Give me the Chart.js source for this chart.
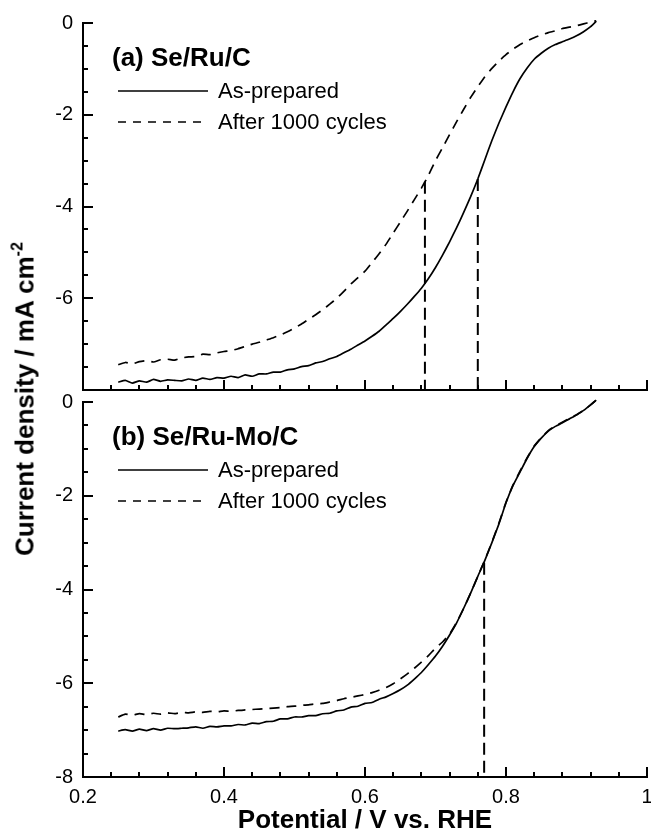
<!DOCTYPE html>
<html>
<head>
<meta charset="utf-8">
<script src="https://cdn.jsdelivr.net/npm/chart.js@4.4.1/dist/chart.umd.min.js"></script>
<style>
html, body { margin: 0; padding: 0; background: #fff; }
#wrap { position: relative; width: 651px; height: 834px; overflow: hidden; background: #fff; }
canvas { position: absolute; left: 0; }
#cTop { top: 0; }
#cBot { top: 380px; }
#ytitle {
  position: absolute; left: 25px; top: 399px;
  transform: translate(-50%, -50%) rotate(-90deg);
  white-space: nowrap; line-height: 1;
  font: bold 26px "Liberation Sans", Arial, Helvetica, sans-serif; color: #000;
}
#ytitle sup { font-size: 16px; vertical-align: 11px; line-height: 1; }
</style>
</head>
<body>
<div id="wrap">
  <canvas id="cTop" width="651" height="412"></canvas>
  <canvas id="cBot" width="651" height="454"></canvas>
  <div id="ytitle">Current density / mA cm<sup>-2</sup></div>
</div>
<script>
// ---------------- DATA ----------------
const potential = [
  0.25, 0.26, 0.27, 0.28, 0.29, 0.30, 0.31, 0.32, 0.33, 0.34,
  0.35, 0.36, 0.37, 0.38, 0.39, 0.40, 0.41, 0.42, 0.43, 0.44,
  0.45, 0.46, 0.47, 0.48, 0.49, 0.50, 0.51, 0.52, 0.53, 0.54,
  0.55, 0.56, 0.57, 0.58, 0.59, 0.60, 0.61, 0.62, 0.63, 0.64,
  0.65, 0.66, 0.67, 0.68, 0.69, 0.70, 0.71, 0.72, 0.73, 0.74,
  0.75, 0.76, 0.77, 0.78, 0.79, 0.80, 0.81, 0.82, 0.83, 0.84,
  0.85, 0.86, 0.87, 0.88, 0.89, 0.90, 0.91, 0.92, 0.928
];
// (a) Se/Ru/C
const currentA_asPrepared = [
  -7.83, -7.79, -7.85, -7.80, -7.83, -7.77, -7.81, -7.78, -7.79, -7.80,
  -7.76, -7.79, -7.74, -7.77, -7.73, -7.74, -7.70, -7.73, -7.67, -7.70,
  -7.65, -7.65, -7.61, -7.61, -7.56, -7.54, -7.49, -7.47, -7.41, -7.38,
  -7.32, -7.27, -7.19, -7.11, -7.02, -6.93, -6.83, -6.72, -6.58, -6.44,
  -6.29, -6.13, -5.96, -5.78, -5.57, -5.33, -5.06, -4.77, -4.46, -4.13,
  -3.78, -3.40, -2.98, -2.56, -2.18, -1.83, -1.50, -1.21, -0.98, -0.79,
  -0.66, -0.55, -0.47, -0.41, -0.35, -0.28, -0.19, -0.08, 0.04
];
const currentA_after1000 = [
  -7.45, -7.40, -7.43, -7.38, -7.36, -7.39, -7.34, -7.33, -7.35, -7.30,
  -7.28, -7.27, -7.22, -7.23, -7.19, -7.16, -7.14, -7.10, -7.05, -7.00,
  -6.96, -6.91, -6.86, -6.80, -6.73, -6.65, -6.56, -6.46, -6.36, -6.25,
  -6.13, -6.00, -5.85, -5.69, -5.55, -5.41, -5.22, -5.03, -4.82, -4.58,
  -4.34, -4.10, -3.85, -3.60, -3.32, -3.00, -2.72, -2.43, -2.15, -1.88,
  -1.62, -1.39, -1.17, -0.99, -0.83, -0.69, -0.57, -0.47, -0.39, -0.32,
  -0.26, -0.21, -0.17, -0.12, -0.09, -0.06, -0.02, 0.02, 0.05
];
// (b) Se/Ru-Mo/C
const currentB_asPrepared = [
  -7.02, -6.99, -7.02, -6.98, -7.01, -6.97, -7.00, -6.96, -6.97, -6.96,
  -6.95, -6.93, -6.96, -6.92, -6.93, -6.91, -6.91, -6.88, -6.89, -6.85,
  -6.86, -6.82, -6.81, -6.76, -6.76, -6.72, -6.72, -6.69, -6.69, -6.65,
  -6.64, -6.59, -6.57, -6.51, -6.49, -6.43, -6.41, -6.34, -6.29, -6.22,
  -6.14, -6.04, -5.91, -5.77, -5.60, -5.42, -5.21, -4.97, -4.71, -4.40,
  -4.07, -3.72, -3.38, -3.00, -2.60, -2.15, -1.78, -1.49, -1.20, -0.95,
  -0.77, -0.62, -0.52, -0.44, -0.36, -0.28, -0.18, -0.06, 0.04
];
const currentB_after1000 = [
  -6.72, -6.66, -6.68, -6.65, -6.67, -6.64, -6.66, -6.63, -6.65, -6.62,
  -6.63, -6.61, -6.62, -6.60, -6.61, -6.59, -6.60, -6.58, -6.57, -6.56,
  -6.55, -6.54, -6.53, -6.52, -6.50, -6.49, -6.47, -6.46, -6.44, -6.43,
  -6.40, -6.37, -6.33, -6.30, -6.27, -6.24, -6.20, -6.15, -6.09, -6.01,
  -5.91, -5.80, -5.68, -5.55, -5.41, -5.25, -5.12, -4.95, -4.70, -4.40,
  -4.07, -3.72, -3.37, -2.99, -2.58, -2.14, -1.77, -1.47, -1.19, -0.94,
  -0.76, -0.61, -0.51, -0.43, -0.35, -0.27, -0.18, -0.06, 0.04
];
// half-wave potential markers (vertical dashed lines from the curve down to the axis)
const halfWaveA_potential = [0.685, 0.760];
const halfWaveA_current = [-3.46, -3.40];
const halfWaveB_potential = [0.769];
const halfWaveB_current = [-3.43];

const panelTitles = ['(a) Se/Ru/C', '(b) Se/Ru-Mo/C'];
const seriesNames = ['As-prepared', 'After 1000 cycles'];
const xTickLabels = ['0.2', '0.4', '0.6', '0.8', '1'];
const yTickLabelsTop = ['0', '-2', '-4', '-6'];
const yTickLabelsBottom = ['0', '-2', '-4', '-6', '-8'];
const xTitle = 'Potential / V vs. RHE';
const xMin = 0.2, xMax = 1, yMin = -8, yMax = 0;
const xMinorStep = 0.04, yMinorStep = 0.5, xMajorStep = 0.2, yMajorStep = 2;

// ---------------- helpers ----------------
const FONT = '"Liberation Sans", Arial, Helvetica, sans-serif';
Chart.defaults.color = '#000';
Chart.defaults.font.family = FONT;

const toXY = (xs, ys) => xs.map((x, i) => ({ x: x, y: ys[i] }));
const labelFor = (value, labels) => {
  const hit = labels.find(l => Math.abs(Number(l) - value) < 1e-6);
  return hit === undefined ? '' : hit;
};
const isMultiple = (v, step) => Math.abs(v / step - Math.round(v / step)) < 1e-6;

// inward major/minor tick marks, placed with the library's scales
const tickMarks = {
  id: 'tickMarks',
  afterDraw(chart) {
    const { ctx, chartArea: a, scales } = chart;
    const x = scales.x, y = scales.y;
    ctx.save();
    ctx.strokeStyle = '#000';
    ctx.lineWidth = 2;
    ctx.setLineDash([]);
    ctx.beginPath();
    y.ticks.forEach(t => {
      const py = Math.round(y.getPixelForValue(t.value));
      const len = isMultiple(t.value, yMajorStep) ? 10 : 5;
      ctx.moveTo(a.left, py); ctx.lineTo(a.left + len, py);
    });
    x.ticks.forEach(t => {
      const px = Math.round(x.getPixelForValue(t.value));
      const len = isMultiple(t.value, xMajorStep) ? 10 : 5;
      ctx.moveTo(px, a.bottom); ctx.lineTo(px, a.bottom - len);
    });
    ctx.stroke();
    ctx.restore();
  }
};

// panel title + in-plot legend
const panelLegend = {
  id: 'panelLegend',
  afterDatasetsDraw(chart, args, opts) {
    const { ctx, chartArea: a } = chart;
    ctx.save();
    ctx.fillStyle = '#000';
    ctx.textBaseline = 'middle';
    ctx.textAlign = 'left';
    ctx.font = 'bold 26px ' + FONT;
    ctx.fillText(opts.title, a.left + 29, a.top + 36);
    ctx.font = '22px ' + FONT;
    opts.items.forEach((dsIndex, i) => {
      const ds = chart.data.datasets[dsIndex];
      const yy = a.top + 68 + i * 31;
      ctx.beginPath();
      ctx.strokeStyle = ds.borderColor;
      ctx.lineWidth = ds.borderWidth;
      ctx.setLineDash(ds.borderDash ? [8, 7] : []);
      ctx.moveTo(a.left + 35, yy);
      ctx.lineTo(a.left + (ds.borderDash ? 119 : 125), yy);
      ctx.stroke();
      ctx.setLineDash([]);
      ctx.fillText(ds.label, a.left + 135, yy + 1);
    });
    ctx.restore();
  }
};

function curve(label, xs, ys, dashed) {
  return {
    label: label, data: toXY(xs, ys), borderColor: '#000', borderWidth: 1.7,
    borderDash: dashed ? [10, 7] : undefined, pointRadius: 0, fill: false,
    clip: false, tension: 0.15
  };
}
function halfWave(p, c) {
  return {
    label: 'half-wave', data: [{ x: p, y: c }, { x: p, y: yMin }],
    borderColor: '#000', borderWidth: 2, borderDash: [12, 6], pointRadius: 0, fill: false
  };
}

function makeChart(canvasId, datasets, panelIndex, yLabels, showX, padding) {
  return new Chart(document.getElementById(canvasId), {
    type: 'line',
    data: { datasets: datasets },
    options: {
      responsive: false, animation: false, devicePixelRatio: 1,
      layout: { padding: padding },
      plugins: {
        legend: { display: false }, tooltip: { enabled: false },
        panelLegend: { title: panelTitles[panelIndex], items: [0, 1] }
      },
      scales: {
        x: {
          type: 'linear', min: xMin, max: xMax,
          grid: { display: false, drawTicks: false },
          border: { display: true, color: '#000', width: 2 },
          ticks: {
            display: showX, stepSize: xMinorStep, maxTicksLimit: 100, autoSkip: false,
            maxRotation: 0, minRotation: 0, padding: 8, color: '#000',
            font: { size: 20, family: FONT },
            callback: v => labelFor(v, xTickLabels)
          },
          title: {
            display: showX, text: xTitle, color: '#000',
            font: { size: 26, weight: 'bold', family: FONT, lineHeight: 1 }, padding: { top: 0, bottom: 0 }
          },
          afterFit: s => { s.height = showX ? 57 : 0; s.paddingLeft = 0; s.paddingRight = 0; }
        },
        y: {
          type: 'linear', min: yMin, max: yMax,
          grid: { display: false, drawTicks: false },
          border: { display: true, color: '#000', width: 2 },
          ticks: {
            stepSize: yMinorStep, maxTicksLimit: 100, autoSkip: false, padding: 10, color: '#000',
            font: { size: 20, family: FONT },
            callback: v => labelFor(v, yLabels)
          },
          afterFit: s => { s.width = 83; }
        }
      }
    },
    plugins: [tickMarks, panelLegend]
  });
}

const dsTop = [
  curve(seriesNames[0], potential, currentA_asPrepared, false),
  curve(seriesNames[1], potential, currentA_after1000, true),
  ...halfWaveA_potential.map((p, i) => halfWave(p, halfWaveA_current[i]))
];
const dsBot = [
  curve(seriesNames[0], potential, currentB_asPrepared, false),
  curve(seriesNames[1], potential, currentB_after1000, true),
  ...halfWaveB_potential.map((p, i) => halfWave(p, halfWaveB_current[i]))
];

makeChart('cTop', dsTop, 0, yTickLabelsTop, false, { top: 23, bottom: 12, left: 0, right: 4 });
makeChart('cBot', dsBot, 1, yTickLabelsBottom, true, { top: 20, bottom: 0, left: 0, right: 4 });
</script>
</body>
</html>
